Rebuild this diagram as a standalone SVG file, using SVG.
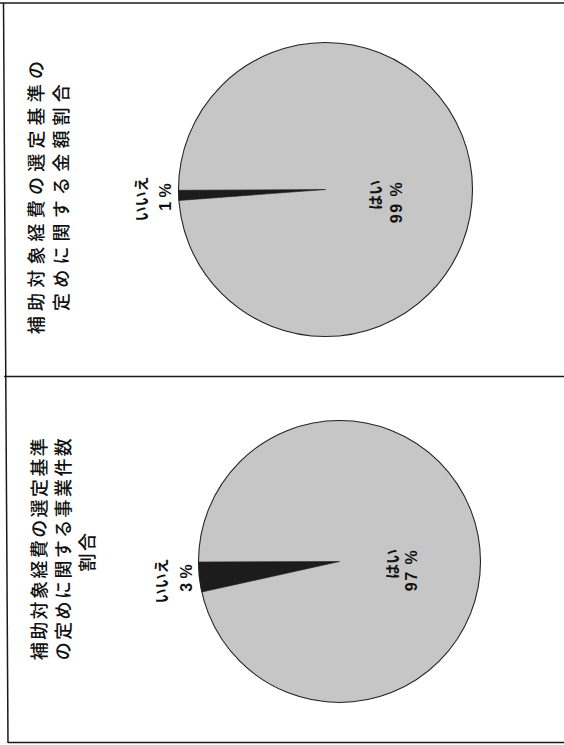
<svg xmlns="http://www.w3.org/2000/svg" width="564" height="745" viewBox="0 0 564 745">
<style>
.frame{stroke:#1a1a1a;stroke-width:1.5;fill:none}
.pie{fill:#c6c6c6;stroke:#222;stroke-width:1.1}
.slice{fill:#1c1c1c;stroke:#1c1c1c;stroke-width:0.6}
.title{font-family:"Noto Sans CJK JP","Noto Sans CJK SC",sans-serif;font-size:18px;font-weight:500;fill:#111;text-anchor:middle;dominant-baseline:central}
.lab{font-family:"Liberation Sans","Noto Sans CJK JP",sans-serif;font-size:15px;font-weight:bold;fill:#111;text-anchor:middle;dominant-baseline:central}
.num{font-size:16px}
</style>
<rect width="564" height="745" fill="#fff"/>
<g id="frame">
<line class="frame" x1="0" y1="3" x2="564" y2="3"/>
<line class="frame" x1="3.5" y1="3" x2="8" y2="743"/>
<line class="frame" x1="4" y1="376.5" x2="564" y2="376.5"/>
<line class="frame" x1="8" y1="742.5" x2="564" y2="742.5"/>
</g>
<g id="chart-amount">
<circle class="pie" cx="325.5" cy="189.5" r="147"/>
<path class="slice" d="M325.5 189.5 L178.5 190.3 A147 147 0 0 0 178.9 200.5 Z"/>
<text class="title" transform="translate(35,195) rotate(-90)" letter-spacing="5.2">補助対象経費の選定基準の</text>
<text class="title" transform="translate(60,195) rotate(-90)" letter-spacing="5.2">定めに関する金額割合</text>
<text class="lab" transform="translate(141,199) rotate(-90)">いいえ</text>
<text class="lab num" transform="translate(165.5,197) rotate(-90)">1 %</text>
<text class="lab" transform="translate(375,195) rotate(-90)">はい</text>
<text class="lab num" transform="translate(396,202) rotate(-90)" letter-spacing="1.5">99 %</text>
</g>
<g id="chart-count">
<circle class="pie" cx="339.5" cy="561.5" r="141"/>
<path class="slice" d="M339.5 561.5 L198.5 562 A141 141 0 0 0 201.8 592 Z"/>
<text class="title" transform="translate(38,548) rotate(-90)" letter-spacing="2.4">補助対象経費の選定基準</text>
<text class="title" transform="translate(62,548) rotate(-90)" letter-spacing="2.4">の定めに関する事業件数</text>
<text class="title" transform="translate(86,551) rotate(-90)" letter-spacing="2.4">割合</text>
<text class="lab" transform="translate(161,581) rotate(-90)">いいえ</text>
<text class="lab num" transform="translate(186,578) rotate(-90)">3 %</text>
<text class="lab" transform="translate(392,564) rotate(-90)">はい</text>
<text class="lab num" transform="translate(411,570) rotate(-90)" letter-spacing="1.5">97 %</text>
</g>
</svg>
